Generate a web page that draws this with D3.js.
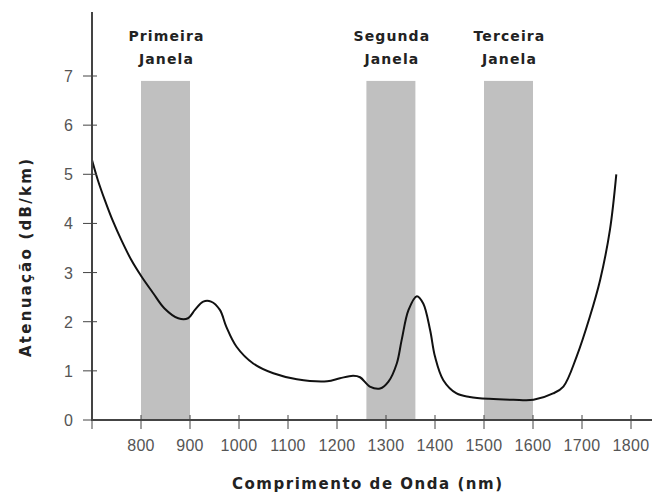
<!DOCTYPE html>
<html>
<head>
<meta charset="utf-8">
<script src="https://cdn.jsdelivr.net/npm/d3@7"></script>
<style>
  body { margin: 0; background: #fff; }
  text { font-family: "Liberation Sans", Arial, sans-serif; }
  .bold { font-family: "DejaVu Sans", Verdana, sans-serif; font-weight: bold; }
</style>
</head>
<body>
<div id="chart"></div>
<script>
var svgWidth = 652;
var svgHeight = 496;

// curve
var wavelength = [700, 712, 726, 743, 760, 780, 801, 825, 848, 876, 896, 910, 927, 943, 961, 974, 995, 1029, 1070, 1118,
  1180, 1206, 1233, 1247, 1267, 1288, 1305, 1322, 1332, 1346, 1363, 1376, 1390, 1400, 1417, 1444, 1471,
  1510, 1560, 1601, 1641, 1662, 1689, 1716, 1737, 1757, 1770];
var attenuation = [5.29, 4.88, 4.48, 4.04, 3.66, 3.26, 2.92, 2.58, 2.27, 2.07, 2.07, 2.24, 2.41, 2.41, 2.24, 1.9, 1.49, 1.15, 0.95, 0.83,
  0.79, 0.85, 0.9, 0.87, 0.68, 0.64, 0.78, 1.15, 1.63, 2.24, 2.52, 2.37, 1.83, 1.29, 0.81, 0.54, 0.47,
  0.43, 0.41, 0.41, 0.54, 0.68, 1.29, 2.1, 2.85, 3.87, 5.0];

// transmission windows
var windowNames = [["Primeira", "Janela"], ["Segunda", "Janela"], ["Terceira", "Janela"]];
var windowStart = [800, 1260, 1500];
var windowEnd = [900, 1360, 1600];
var windowTop = 6.9;

var xTicks = [700, 800, 900, 1000, 1100, 1200, 1300, 1400, 1500, 1600, 1700, 1800];
var yTicks = [0, 1, 2, 3, 4, 5, 6, 7];

var svg = d3.select("#chart")
  .append("svg")
  .attr("width", svgWidth)
  .attr("height", svgHeight);

var x = d3.scaleLinear().domain([700, 1800]).range([92, 631]);
var y = d3.scaleLinear().domain([0, 7]).range([420, 76]);

// gray windows
svg.selectAll("rect.win")
  .data(windowStart)
  .enter()
  .append("rect")
  .attr("class", "win")
  .attr("x", (d, i) => x(d))
  .attr("y", y(windowTop))
  .attr("width", (d, i) => x(windowEnd[i]) - x(d))
  .attr("height", y(0) - y(windowTop))
  .attr("fill", "#c0c0c0");

// window labels
windowNames.forEach(function(lines, i) {
  var cx = (x(windowStart[i]) + x(windowEnd[i])) / 2;
  lines.forEach(function(t, j) {
    svg.append("text")
      .attr("class", "bold")
      .attr("x", cx + 1)
      .attr("y", 41 + j * 23)
      .attr("text-anchor", "middle")
      .attr("font-size", "14px")
      .attr("letter-spacing", "1.1px")
      .attr("fill", "#222")
      .text(t);
  });
});

// the attenuation curve
var line = d3.line()
  .x((d, i) => x(wavelength[i]))
  .y(d => y(d))
  .curve(d3.curveCatmullRom.alpha(0.5));

svg.append("path")
  .datum(attenuation)
  .attr("d", line)
  .attr("fill", "none")
  .attr("stroke", "#111")
  .attr("stroke-width", 2);

// axes
var axisColor = "#444";
svg.append("line")
  .attr("x1", 92).attr("x2", 652)
  .attr("y1", y(0)).attr("y2", y(0))
  .attr("stroke", axisColor).attr("stroke-width", 2);
svg.append("line")
  .attr("x1", 92).attr("x2", 92)
  .attr("y1", 12).attr("y2", y(0) + 1)
  .attr("stroke", axisColor).attr("stroke-width", 2);

svg.selectAll("line.xt")
  .data(xTicks)
  .enter()
  .append("line")
  .attr("class", "xt")
  .attr("x1", d => x(d)).attr("x2", d => x(d))
  .attr("y1", y(0) - 5).attr("y2", y(0) + 9)
  .attr("stroke", axisColor).attr("stroke-width", 1);

svg.selectAll("text.xl")
  .data(xTicks.slice(1))
  .enter()
  .append("text")
  .attr("class", "xl")
  .attr("x", d => x(d))
  .attr("y", 451)
  .attr("text-anchor", "middle")
  .attr("font-size", "16px")
  .attr("letter-spacing", "0.3px")
  .attr("fill", "#555")
  .text(d => d);

svg.selectAll("line.yt")
  .data(yTicks)
  .enter()
  .append("line")
  .attr("class", "yt")
  .attr("x1", 83).attr("x2", 97)
  .attr("y1", d => y(d)).attr("y2", d => y(d))
  .attr("stroke", axisColor).attr("stroke-width", 1);

svg.selectAll("text.yl")
  .data(yTicks)
  .enter()
  .append("text")
  .attr("class", "yl")
  .attr("x", 73)
  .attr("y", d => y(d) + 6)
  .attr("text-anchor", "end")
  .attr("font-size", "16px")
  .attr("fill", "#555")
  .text(d => d);

// axis titles
svg.append("text")
  .attr("class", "bold")
  .attr("x", 367)
  .attr("y", 489)
  .attr("text-anchor", "middle")
  .attr("font-size", "15px")
  .attr("textLength", 270)
  .attr("lengthAdjust", "spacing")
  .attr("fill", "#222")
  .text("Comprimento de Onda (nm)");

svg.append("text")
  .attr("class", "bold")
  .attr("transform", "translate(31, 258) rotate(-90)")
  .attr("text-anchor", "middle")
  .attr("font-size", "15px")
  .attr("textLength", 198)
  .attr("lengthAdjust", "spacing")
  .attr("fill", "#222")
  .text("Atenuação (dB/km)");
</script>
</body>
</html>
